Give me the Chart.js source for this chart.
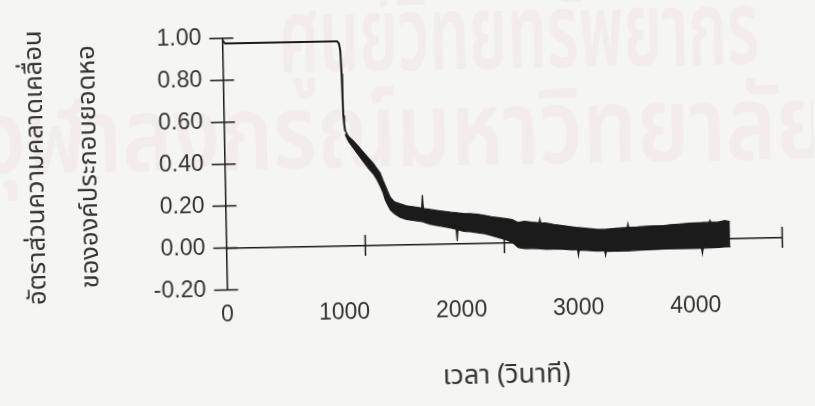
<!DOCTYPE html>
<html lang="th">
<head>
    <meta charset="UTF-8">
    <title>Error ratio</title>
    <style>
        body { margin: 0; background: #f5f5f3; overflow: hidden; }
        #wrap { width: 815px; height: 406px; transform: rotate(-1.1deg); }
    </style>
</head>
<body>
<div id="wrap">
    <canvas id="myChart"></canvas>
</div>
<script src="https://cdn.jsdelivr.net/npm/chart.js@4.4.1/dist/chart.umd.min.js"></script>
<script>
    // flat part and the drop (time s, ratio)
    let traceTimes = [0, 20, 825, 838, 847, 853, 857, 860, 865, 871];
    let traceValues = [0.99, 0.975, 0.975, 0.965, 0.93, 0.82, 0.70, 0.62, 0.58, 0.545];

    // noisy band after the drop: upper and lower edge
    let bandTimes = [871, 895, 927, 960, 997, 1035, 1068, 1095, 1116, 1135, 1150, 1168, 1186, 1215, 1255,
        1300, 1345, 1390, 1411, 1417, 1423, 1470, 1520, 1570, 1620, 1656, 1662, 1668, 1710, 1760, 1810,
        1860, 1910, 1960, 2010, 2060, 2100, 2150, 2200, 2253, 2259, 2265, 2300, 2360, 2420, 2480, 2526,
        2532, 2538, 2600, 2660, 2721, 2727, 2733, 2800, 2860, 2886, 2892, 2898, 2960, 3020, 3080, 3144,
        3200, 3260, 3338, 3418, 3424, 3430, 3476, 3482, 3488, 3540, 3590, 3626];
    let bandTop = [0.550, 0.520, 0.500, 0.475, 0.445, 0.415, 0.390, 0.365, 0.345, 0.310, 0.285, 0.255, 0.227, 0.205, 0.195,
        0.185, 0.180, 0.175, 0.172, 0.235, 0.170, 0.165, 0.160, 0.155, 0.150, 0.147, 0.147, 0.146, 0.143, 0.142, 0.138,
        0.132, 0.125, 0.120, 0.115, 0.110, 0.095, 0.100, 0.095, 0.092, 0.110, 0.092, 0.090, 0.082, 0.076, 0.070, 0.065,
        0.065, 0.065, 0.060, 0.056, 0.054, 0.054, 0.055, 0.058, 0.060, 0.061, 0.080, 0.062, 0.063, 0.065, 0.066, 0.067,
        0.070, 0.073, 0.076, 0.077, 0.077, 0.078, 0.078, 0.088, 0.079, 0.078, 0.085, 0.080];
    let bandBottom = [0.530, 0.495, 0.465, 0.435, 0.400, 0.365, 0.340, 0.310, 0.280, 0.250, 0.215, 0.190, 0.167, 0.148, 0.130,
        0.120, 0.115, 0.110, 0.108, 0.108, 0.105, 0.095, 0.088, 0.082, 0.075, 0.068, 0.012, 0.066, 0.058, 0.055, 0.050,
        0.045, 0.035, 0.025, 0.015, 0.000, -0.025, -0.030, -0.030, -0.032, -0.033, -0.033, -0.035, -0.035, -0.036, -0.040, -0.040,
        -0.068, -0.042, -0.045, -0.048, -0.048, -0.070, -0.050, -0.050, -0.050, -0.050, -0.050, -0.050, -0.048, -0.047, -0.046, -0.045,
        -0.045, -0.045, -0.045, -0.045, -0.070, -0.045, -0.043, -0.043, -0.043, -0.042, -0.040, -0.040];

    let xTickValues = [0, 1000, 2000, 3000, 4000];
    let yTitle = ['อัตราส่วนความคลาดเคลื่อน', 'ขององค์ประกอบยอดหอ'];
    let xTitle = 'เวลา (วินาที)';
    let watermark = ['ศูนย์วิทยทรัพยากร', 'จุฬาลงกรณ์มหาวิทยาลัย'];

    let ink = '#1b1b1b';
    let thai = '"Noto Sans Thai", "Noto Sans Thai UI", Loma, Garuda, "Tlwg Typo", sans-serif';
    let digits = '"Liberation Sans", Arial, sans-serif';

    let toPoints = (xs, ys) => xs.map((t, i) => ({x: t, y: ys[i]}));

    let watermarkPlugin = {
        id: 'watermark',
        beforeDraw(chart) {
            let ctx = chart.ctx;
            ctx.save();
            ctx.fillStyle = 'rgba(222, 165, 192, 0.11)';
            ctx.textBaseline = 'alphabetic';
            ctx.font = '600 104px ' + thai;
            ctx.fillText(watermark[0], 282, 70, 480);
            ctx.fillText(watermark[1], -20, 166, 850);
            ctx.restore();
        }
    };

    let crossTicks = {
        id: 'crossTicks',
        afterDraw(chart) {
            let ctx = chart.ctx;
            let x = chart.scales.x, y = chart.scales.y;
            let x0 = x.getPixelForValue(0), y0 = y.getPixelForValue(0);
            ctx.save();
            ctx.strokeStyle = ink;
            ctx.lineWidth = 1.5;
            ctx.beginPath();
            y.ticks.forEach(t => {
                let py = y.getPixelForValue(t.value);
                ctx.moveTo(x0 - 13, py);
                ctx.lineTo(x0 + 11, py);
            });
            x.ticks.forEach(t => {
                if (t.value === 0) return;
                let px = x.getPixelForValue(t.value);
                ctx.moveTo(px, y0 - 10.5);
                ctx.lineTo(px, y0 + 10.5);
            });
            ctx.stroke();
            ctx.restore();
        }
    };

    let ctx = document.getElementById('myChart').getContext('2d');
    new Chart(ctx, {
        type: 'line',
        data: {
            datasets: [
                {
                    label: 'trace',
                    data: toPoints(traceTimes, traceValues),
                    xAxisID: 'x',
                    borderColor: ink,
                    borderWidth: 2,
                    pointRadius: 0,
                    fill: false
                },
                {
                    label: 'upper',
                    data: toPoints(bandTimes, bandTop),
                    xAxisID: 'x',
                    borderColor: ink,
                    borderWidth: 1.2,
                    pointRadius: 0,
                    fill: false
                },
                {
                    label: 'lower',
                    data: toPoints(bandTimes, bandBottom),
                    xAxisID: 'x',
                    borderColor: ink,
                    borderWidth: 1.2,
                    pointRadius: 0,
                    backgroundColor: ink,
                    fill: '-1'
                }
            ]
        },
        options: {
            responsive: true,
            maintainAspectRatio: false,
            animation: false,
            layout: {padding: {top: 17.5, right: 33.5, bottom: 0, left: 0}},
            plugins: {
                legend: {display: false},
                tooltip: {enabled: false}
            },
            scales: {
                x: {
                    type: 'linear',
                    axis: 'x',
                    position: {y: 0},
                    min: 0,
                    max: 4000,
                    ticks: {display: false, stepSize: 1000},
                    grid: {display: false, drawTicks: false},
                    border: {color: ink, width: 1.5}
                },
                // the printed labels sit on a narrower spacing than the tick marks
                xLabels: {
                    type: 'linear',
                    axis: 'x',
                    position: 'bottom',
                    min: 0,
                    max: 4750,
                    afterBuildTicks: s => { s.ticks = xTickValues.map(v => ({value: v})); },
                    ticks: {
                        padding: 11,
                        color: '#333',
                        font: {family: '"Liberation Sans Narrow", ' + digits, size: 23},
                        callback: v => String(v)
                    },
                    grid: {display: false, drawTicks: false},
                    border: {display: false},
                    title: {
                        display: true,
                        text: xTitle,
                        color: '#333',
                        font: {family: thai, size: 27},
                        padding: {top: 0, bottom: 10}
                    },
                    afterFit: s => { s.height = 119.5; }
                },
                y: {
                    type: 'linear',
                    position: 'left',
                    min: -0.2,
                    max: 1,
                    ticks: {
                        stepSize: 0.2,
                        padding: 21,
                        color: '#333',
                        font: {family: digits, size: 23},
                        callback: v => (Math.abs(v) < 1e-9 ? 0 : v).toFixed(2)
                    },
                    grid: {display: false, drawTicks: false},
                    border: {color: ink, width: 1.5},
                    title: {
                        display: true,
                        text: yTitle,
                        color: '#333',
                        font: {family: thai, size: 25.5, lineHeight: '53px'},
                        padding: {top: 12.5, bottom: 0}
                    },
                    afterFit: s => { s.width = 225.5; }
                }
            }
        },
        plugins: [watermarkPlugin, crossTicks]
    });
</script>
</body>
</html>
